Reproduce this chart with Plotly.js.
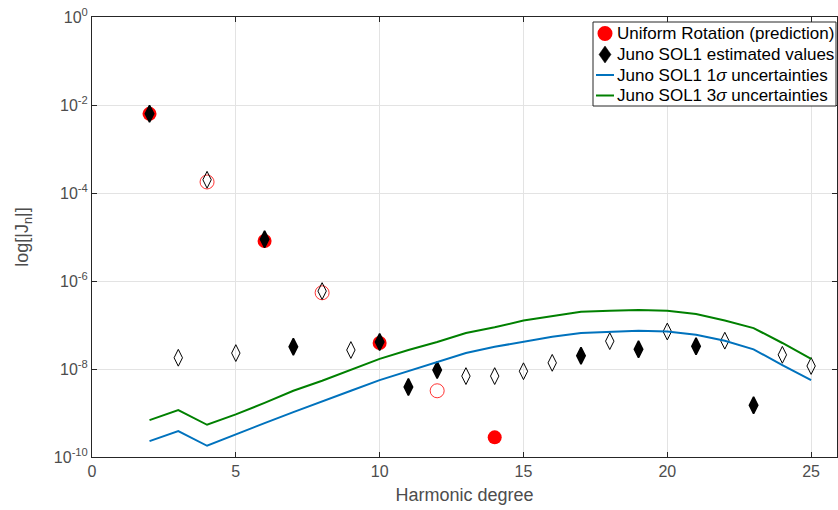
<!DOCTYPE html>
<html>
<head>
<meta charset="utf-8">
<script src="https://cdn.plot.ly/plotly-3.0.1.min.js"></script>
<style>html,body{margin:0;padding:0;background:#fff;}#chart{width:838px;height:510px;}</style>
</head>
<body>
<div id="chart"></div>
<script>
// Harmonic degrees
const degreesAll = [2,3,4,5,6,7,8,9,10,11,12,13,14,15,16,17,18,19,20,21,22,23,24,25];
// Juno SOL1 estimated |Jn| and whether the value is positive (filled) or negative (open)
const junoValues = [6.3e-3,1.8e-8,2.0e-4,2.3e-8,8.9e-6,3.2e-8,5.9e-7,2.7e-8,4.1e-8,3.9e-9,9.5e-9,6.9e-9,6.9e-9,8.9e-9,1.38e-8,2.0e-8,4.3e-8,2.8e-8,7.1e-8,3.3e-8,4.4e-8,1.5e-9,2.1e-8,1.17e-8];
const junoPositive = [1,0,0,0,1,1,0,0,1,1,1,0,0,0,0,1,0,1,0,1,0,1,0,0];
// Uniform rotation prediction
const degreesEven = [2,4,6,8,10,12,14];
const uniformValues = [6.3e-3,1.78e-4,8.1e-6,5.4e-7,3.9e-8,3.2e-9,2.8e-10];
const uniformPositive = [1,0,1,0,1,0,1];
// Uncertainties
const sigma1 = [2.3e-10,3.9e-10,1.8e-10,3.3e-10,5.9e-10,1.05e-9,1.8e-9,3.2e-9,5.6e-9,8.9e-9,1.45e-8,2.3e-8,3.2e-8,4.2e-8,5.4e-8,6.6e-8,7.1e-8,7.4e-8,7.1e-8,6.0e-8,4.4e-8,2.8e-8,1.23e-8,5.6e-9];
const sigma3 = [6.9e-10,1.17e-9,5.4e-10,9.3e-10,1.7e-9,3.2e-9,5.4e-9,9.5e-9,1.7e-8,2.7e-8,4.1e-8,6.6e-8,8.9e-8,1.26e-7,1.58e-7,2.0e-7,2.1e-7,2.2e-7,2.1e-7,1.78e-7,1.26e-7,8.5e-8,3.9e-8,1.7e-8];
// Tick labels and legend texts
const xTickVals = [0,5,10,15,20,25];
const yTickVals = [1,1e-2,1e-4,1e-6,1e-8,1e-10];
const yTickText = ['10<sup>0</sup>','10<sup>-2</sup>','10<sup>-4</sup>','10<sup>-6</sup>','10<sup>-8</sup>','10<sup>-10</sup>'];
const legendNames = ['Uniform Rotation (prediction)','Juno SOL1 estimated values','Juno SOL1 1<i>σ</i> uncertainties','Juno SOL1 3<i>σ</i> uncertainties'];

const font = 'Liberation Sans, Arial, Helvetica, sans-serif';
const axisCol = '#262626';
const blue = '#0072BD', green = '#008000';

const traces = [
  {
    x: degreesEven, y: uniformValues, mode: 'markers', type: 'scatter',
    name: legendNames[0],
    marker: {
      color: 'red', size: 14,
      symbol: uniformPositive.map(p => p ? 'circle' : 'circle-open'),
      line: {color: 'rgba(255,80,80,0.9)', width: uniformPositive.map(p => p ? 0 : 0.8)}
    }
  },
  {
    x: degreesAll, y: junoValues, mode: 'markers', type: 'scatter',
    name: legendNames[1],
    marker: {
      color: 'black', size: 12,
      symbol: junoPositive.map(p => p ? 'diamond-tall' : 'diamond-tall-open'),
      line: {color: 'black', width: junoPositive.map(p => p ? 1.6 : 1)}
    }
  },
  {
    x: degreesAll, y: sigma1, mode: 'lines', type: 'scatter',
    name: legendNames[2], line: {color: blue, width: 2}
  },
  {
    x: degreesAll, y: sigma3, mode: 'lines', type: 'scatter',
    name: legendNames[3], line: {color: green, width: 2}
  }
];

// Plot area in pixels: left 92, right 837, top 17, bottom 457
const PL = 92, PR = 837, PT = 17, PB = 457;
const px = x => (x - PL) / (PR - PL);
const py = y => (PB - y) / (PB - PT);

// Legend box (MATLAB style, compact)
const rowY = [33.5, 54.5, 75, 95.5];
const symX = 605, textX = 616;
const shapes = [
  {type: 'rect', xref: 'paper', yref: 'paper', x0: px(593), x1: px(836), y0: py(106), y1: py(22),
   fillcolor: '#fff', line: {color: axisCol, width: 1}, layer: 'above'},
  {type: 'circle', xref: 'paper', yref: 'paper', x0: px(symX - 7.5), x1: px(symX + 7.5), y0: py(rowY[0] + 7.5), y1: py(rowY[0] - 7.5),
   fillcolor: 'red', line: {width: 0}, layer: 'above'},
  {type: 'path', xref: 'paper', yref: 'paper',
   path: `M${px(symX)},${py(rowY[1] - 8.5)} L${px(symX + 6)},${py(rowY[1])} L${px(symX)},${py(rowY[1] + 8.5)} L${px(symX - 6)},${py(rowY[1])} Z`,
   fillcolor: 'black', line: {color: 'black', width: 0.5}, layer: 'above'},
  {type: 'line', xref: 'paper', yref: 'paper', x0: px(596), x1: px(614), y0: py(rowY[2]), y1: py(rowY[2]),
   line: {color: blue, width: 2}, layer: 'above'},
  {type: 'line', xref: 'paper', yref: 'paper', x0: px(596), x1: px(614), y0: py(rowY[3]), y1: py(rowY[3]),
   line: {color: green, width: 2}, layer: 'above'}
];
const annotations = legendNames.map((t, i) => ({
  text: t, xref: 'paper', yref: 'paper', x: px(textX), y: py(rowY[i]),
  xanchor: 'left', yanchor: 'middle', showarrow: false,
  font: {family: font, size: 17, color: '#000'}, borderpad: 0
}));

const layout = {
  width: 838, height: 510,
  margin: {l: PL, r: 838 - PR, t: PT, b: 510 - PB},
  paper_bgcolor: '#fff', plot_bgcolor: '#fff',
  font: {family: font, color: axisCol},
  showlegend: false,
  shapes: shapes,
  annotations: annotations,
  xaxis: {
    range: [0, 25.9], tickvals: xTickVals, ticktext: xTickVals.map(String),
    ticks: 'inside', ticklen: 5, tickcolor: axisCol,
    showline: true, linecolor: axisCol, linewidth: 1, mirror: 'allticks',
    showgrid: true, gridcolor: '#e3e3e3', zeroline: false,
    tickfont: {size: 16, color: '#4d4d4d'},
    title: {text: 'Harmonic degree', font: {size: 18, color: '#4d4d4d'}, standoff: 9}
  },
  yaxis: {
    type: 'log', range: [-10, 0], tickvals: yTickVals, ticktext: yTickText,
    ticks: 'inside', ticklen: 5, tickcolor: axisCol,
    showline: true, linecolor: axisCol, linewidth: 1, mirror: 'allticks',
    showgrid: true, gridcolor: '#e3e3e3', zeroline: false,
    tickfont: {size: 16, color: '#4d4d4d'},
    title: {text: 'log[|J<sub>n</sub>|]', font: {size: 18, color: '#4d4d4d'}, standoff: 20}
  }
};

Plotly.newPlot('chart', traces, layout, {displayModeBar: false, staticPlot: true});
</script>
</body>
</html>
